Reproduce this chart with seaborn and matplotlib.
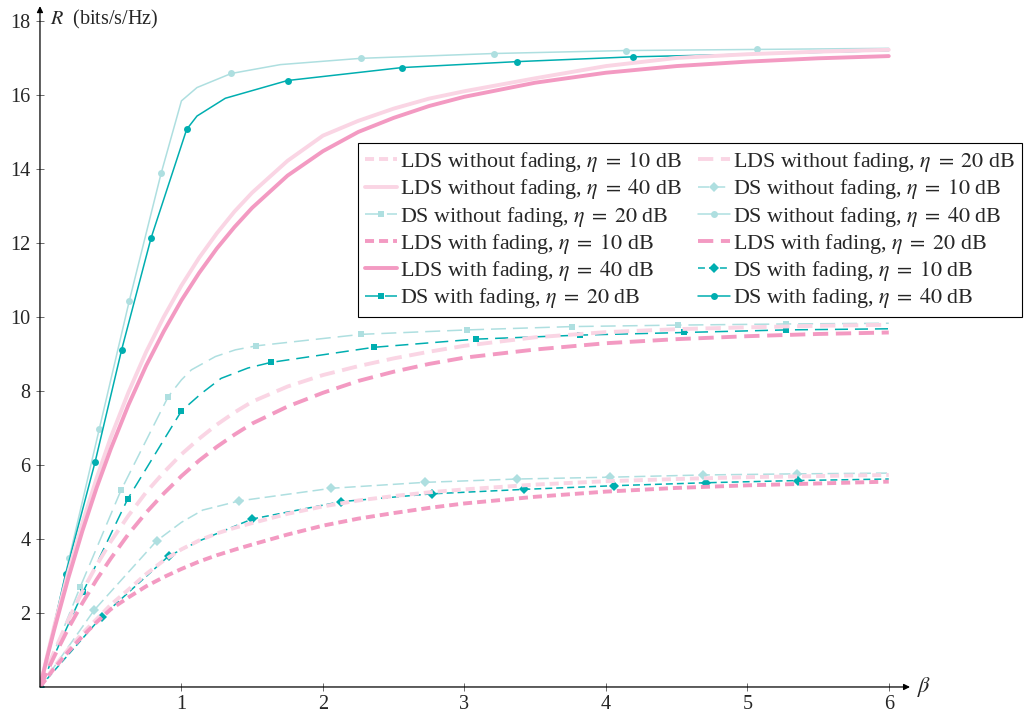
import matplotlib
matplotlib.use("Agg")
import matplotlib.pyplot as plt
import seaborn as sns

# ---------------- data ----------------
# LDS curves (smooth)
lds_x = [0, 0.05, 0.1, 0.2, 0.3, 0.4, 0.5, 0.625, 0.75, 0.875, 1.0, 1.125, 1.25, 1.375,
         1.5, 1.75, 2.0, 2.25, 2.5, 2.75, 3.0, 3.5, 4.0, 4.5, 5.0, 5.5, 6.0]
lds_nf_10 = [0, 0.27, 0.54, 1.02, 1.45, 1.83, 2.22, 2.63, 3.05, 3.42, 3.72, 3.96, 4.15, 4.3,
             4.43, 4.68, 4.88, 5.04, 5.16, 5.26, 5.34, 5.47, 5.56, 5.62, 5.67, 5.7, 5.73]
lds_nf_20 = [0, 0.49, 0.95, 1.81, 2.59, 3.29, 3.93, 4.63, 5.26, 5.8, 6.29, 6.71, 7.09, 7.42,
             7.71, 8.12, 8.43, 8.67, 8.88, 9.06, 9.22, 9.45, 9.59, 9.67, 9.72, 9.76, 9.79]
lds_nf_40 = [0, 0.83, 1.63, 3.1, 4.43, 5.64, 6.74, 7.96, 9.05, 10.0, 10.85, 11.6, 12.26, 12.85,
             13.36, 14.22, 14.9, 15.3, 15.63, 15.9, 16.1, 16.45, 16.78, 17.0, 17.1, 17.17, 17.22]
lds_f_10 = [0, 0.25, 0.5, 0.95, 1.37, 1.75, 2.1, 2.42, 2.72, 2.97, 3.19, 3.39, 3.56, 3.71,
            3.85, 4.12, 4.36, 4.55, 4.7, 4.84, 4.96, 5.14, 5.28, 5.38, 5.45, 5.5, 5.55]
lds_f_20 = [0, 0.42, 0.82, 1.58, 2.27, 2.9, 3.47, 4.13, 4.71, 5.23, 5.7, 6.12, 6.49, 6.82,
            7.12, 7.58, 7.95, 8.27, 8.52, 8.73, 8.9, 9.12, 9.29, 9.4, 9.48, 9.54, 9.58]
lds_f_40 = [0, 0.79, 1.54, 2.94, 4.22, 5.38, 6.43, 7.62, 8.68, 9.61, 10.45, 11.19, 11.85, 12.43,
            12.95, 13.82, 14.48, 15.0, 15.38, 15.7, 15.95, 16.33, 16.6, 16.78, 16.9, 16.99, 17.05]

# DS curves (with marker indices)
ds_nf_10_x = [0, 0.384, 0.825, 1.0, 1.15, 1.41, 2.06, 2.72, 3.37, 4.03, 4.69, 5.35, 6.0]
ds_nf_10_y = [0, 2.08, 3.95, 4.45, 4.78, 5.03, 5.37, 5.53, 5.62, 5.67, 5.73, 5.76, 5.78]
ds_nf_10_mk = [0, 1, 2, 5, 6, 7, 8, 9, 10, 11]

ds_nf_20_x = [0, 0.283, 0.572, 0.907, 1.0, 1.07, 1.24, 1.38, 1.53, 2.27, 3.02, 3.76, 4.51, 5.27, 6.0]
ds_nf_20_y = [0, 2.69, 5.31, 7.85, 8.3, 8.57, 8.93, 9.11, 9.22, 9.53, 9.65, 9.74, 9.78, 9.81, 9.83]
ds_nf_20_mk = [0, 1, 2, 3, 8, 9, 10, 11, 12, 13]

ds_nf_40_x = [0, 0.207, 0.419, 0.631, 0.857, 1.0, 1.11, 1.352, 1.7, 2.27, 3.21, 4.14, 5.07, 6.0]
ds_nf_40_y = [0, 3.49, 6.97, 10.43, 13.89, 15.84, 16.2, 16.58, 16.82, 16.99, 17.12, 17.2, 17.23, 17.26]
ds_nf_40_mk = [0, 1, 2, 3, 4, 7, 9, 10, 11, 12]

ds_f_10_x = [0, 0.436, 0.91, 1.14, 1.5, 2.13, 2.77, 3.42, 4.06, 4.71, 5.36, 6.0]
ds_f_10_y = [0, 1.9, 3.54, 3.97, 4.54, 5.01, 5.22, 5.34, 5.44, 5.52, 5.58, 5.62]
ds_f_10_mk = [0, 1, 2, 4, 5, 6, 7, 8, 9, 10]

ds_f_20_x = [0, 0.306, 0.62, 1.0, 1.14, 1.28, 1.47, 1.63, 2.36, 3.08, 3.82, 4.55, 5.27, 6.0]
ds_f_20_y = [0, 2.58, 5.08, 7.46, 7.93, 8.34, 8.62, 8.77, 9.18, 9.4, 9.51, 9.58, 9.65, 9.68]
ds_f_20_mk = [0, 1, 2, 3, 7, 8, 9, 10, 11, 12]

ds_f_40_x = [0, 0.181, 0.389, 0.577, 0.785, 1.037, 1.11, 1.31, 1.75, 2.56, 3.37, 4.19, 5.0, 6.0]
ds_f_40_y = [0, 3.05, 6.07, 9.11, 12.13, 15.07, 15.43, 15.91, 16.39, 16.74, 16.9, 17.03, 17.1, 17.2]
ds_f_40_mk = [0, 1, 2, 3, 4, 5, 8, 9, 10, 11]

x_ticks = [1, 2, 3, 4, 5, 6]
y_ticks = [2, 4, 6, 8, 10, 12, 14, 16, 18]

labels = [
    r"LDS without fading, $\eta\;=\;10$ dB", r"LDS without fading, $\eta\;=\;20$ dB",
    r"LDS without fading, $\eta\;=\;40$ dB", r"DS without fading, $\eta\;=\;10$ dB",
    r"DS without fading, $\eta\;=\;20$ dB", r"DS without fading, $\eta\;=\;40$ dB",
    r"LDS with fading, $\eta\;=\;10$ dB", r"LDS with fading, $\eta\;=\;20$ dB",
    r"LDS with fading, $\eta\;=\;40$ dB", r"DS with fading, $\eta\;=\;10$ dB",
    r"DS with fading, $\eta\;=\;20$ dB", r"DS with fading, $\eta\;=\;40$ dB",
]

# ---------------- style ----------------
sns.set_theme(style="white")
plt.rcParams["font.family"] = ["Liberation Serif", "DejaVu Serif"]
plt.rcParams["mathtext.fontset"] = "stix"
plt.rcParams["lines.scale_dashes"] = False

LPINK = "#FAD5E4"
PINK = "#F39AC2"
LTEAL = "#AEDFE0"
TEAL = "#00AEB0"

fig = plt.figure(figsize=(10.25, 7.22), dpi=100)
ax = fig.add_axes([0.039, 0.0485, 0.8488, 0.943])

LW_LDS = 2.8
LW_DS = 1.1

series = [
    dict(x=lds_x, y=lds_nf_10, color=LPINK, lw=LW_LDS, ls=(0, (6.5, 3.6)), z=3),
    dict(x=lds_x, y=lds_nf_20, color=LPINK, lw=LW_LDS, ls=(0, (11, 5.5)), z=3),
    dict(x=lds_x, y=lds_nf_40, color=LPINK, lw=LW_LDS, ls="-", z=3),
    dict(x=ds_nf_10_x, y=ds_nf_10_y, color=LTEAL, lw=LW_DS, ls=(0, (8, 3.6)), m="D", ms=4.6, mk=ds_nf_10_mk, z=2),
    dict(x=ds_nf_20_x, y=ds_nf_20_y, color=LTEAL, lw=LW_DS, ls=(0, (10.8, 5)), m="s", ms=4.6, mk=ds_nf_20_mk, z=2),
    dict(x=ds_nf_40_x, y=ds_nf_40_y, color=LTEAL, lw=LW_DS, ls="-", m="o", ms=5.0, mk=ds_nf_40_mk, z=2),
    dict(x=lds_x, y=lds_f_10, color=PINK, lw=LW_LDS, ls=(0, (6.5, 3.6)), z=3),
    dict(x=lds_x, y=lds_f_20, color=PINK, lw=LW_LDS, ls=(0, (11, 5.5)), z=3),
    dict(x=lds_x, y=lds_f_40, color=PINK, lw=LW_LDS, ls="-", z=3),
    dict(x=ds_f_10_x, y=ds_f_10_y, color=TEAL, lw=LW_DS, ls=(0, (5, 2.9)), m="D", ms=4.6, mk=ds_f_10_mk, z=2.5),
    dict(x=ds_f_20_x, y=ds_f_20_y, color=TEAL, lw=LW_DS, ls=(0, (9.4, 5)), m="s", ms=4.6, mk=ds_f_20_mk, z=2.5),
    dict(x=ds_f_40_x, y=ds_f_40_y, color=TEAL, lw=LW_DS, ls="-", m="o", ms=5.0, mk=ds_f_40_mk, z=2.5),
]

handles = []
for s, lab in zip(series, labels):
    kw = dict(color=s["color"], linewidth=s["lw"], linestyle=s["ls"], zorder=s["z"])
    if "m" in s:
        kw.update(marker=s["m"], markersize=s["ms"], markevery=s["mk"],
                  markeredgecolor=s["color"], markeredgewidth=0, markerfacecolor=s["color"])
    n_before = len(ax.lines)
    sns.lineplot(x=s["x"], y=s["y"], ax=ax, label=lab, legend=False, sort=False,
                 estimator=None, **kw)
    handles.append(ax.lines[n_before])

ax.set_xlim(0, 6.15)
ax.set_ylim(0, 18.4)
for sp in ax.spines.values():
    sp.set_visible(False)

ax.set_xticks(x_ticks)
ax.set_yticks(y_ticks)
ax.set_xticklabels([str(v) for v in x_ticks])
ax.set_yticklabels([str(v) for v in y_ticks])
ax.tick_params(axis="both", direction="inout", length=6, width=0.6, color="#555555",
               labelsize=14.5, bottom=True, left=True, top=False, right=False)
ax.tick_params(axis="x", pad=3)
ax.tick_params(axis="y", pad=4)

# axis lines with arrows
arrow_kw = dict(arrowstyle="-|>", color="black", lw=0.9, mutation_scale=9,
                shrinkA=0, shrinkB=0)
ax.annotate("", xy=(6.15, 0), xytext=(0, 0), xycoords="data",
            arrowprops=arrow_kw, annotation_clip=False, zorder=5)
ax.annotate("", xy=(0, 18.4), xytext=(0, 0), xycoords="data",
            arrowprops=arrow_kw, annotation_clip=False, zorder=5)

ax.text(0.07, 18.05, r"$R$  (bits/s/Hz)", fontsize=14.5, ha="left", va="center")
ax.text(6.2, 0.0, r"$\beta$", fontsize=16, ha="left", va="center")

# legend filled row-wise
order = [0, 2, 4, 6, 8, 10, 1, 3, 5, 7, 9, 11]
leg = ax.legend([handles[i] for i in order], [labels[i] for i in order],
                ncol=2, loc="upper left", bbox_to_anchor=(0.3655, 0.799),
                fontsize=15.8, frameon=True, fancybox=False, framealpha=1,
                edgecolor="black", handlelength=1.45, handletextpad=0.15,
                columnspacing=0.75, labelspacing=0.15, borderpad=0.32,
                borderaxespad=0)
leg.get_frame().set_linewidth(0.8)
leg.set_zorder(10)

fig.savefig("out.png", dpi=100)
